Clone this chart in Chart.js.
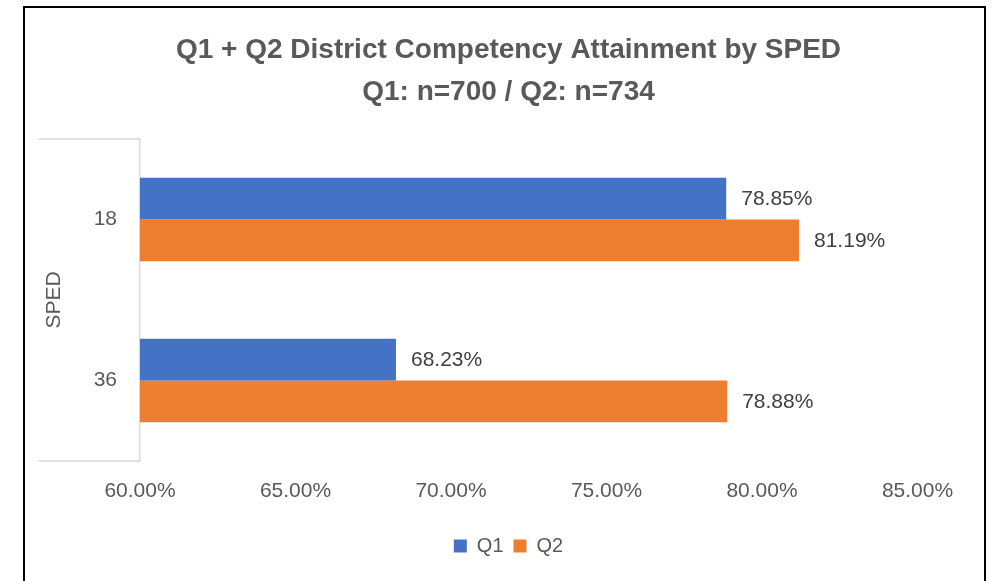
<!DOCTYPE html>
<html>
<head>
<meta charset="utf-8">
<script src="https://cdn.jsdelivr.net/npm/chart.js@4.4.1/dist/chart.umd.min.js"></script>
<style>
  html, body { margin: 0; padding: 0; background: #ffffff; }
  #wrap { position: relative; width: 995px; height: 581px; overflow: hidden; }
  #frame { position: absolute; left: 23px; top: 6px; width: 959px; height: 640px;
           border: 2px solid #000000; pointer-events: none; }
  canvas { position: absolute; left: 0; top: 0; }
</style>
</head>
<body>
<div id="wrap">
  <canvas id="c" width="995" height="581"></canvas>
  <div id="frame"></div>
</div>
<script>
// ---- data ----
const titleLines = ['Q1 + Q2 District Competency Attainment by SPED', 'Q1: n=700 / Q2: n=734'];
const groupLabel = 'SPED';
const categories = ['18', '36'];
const seriesNames = ['Q1', 'Q2'];
const q1Values = [78.85, 68.23];
const q2Values = [81.19, 78.88];
const axisMin = 60;
const axisMax = 85;
const axisStep = 5;

const FONT = "'Liberation Sans', Arial, sans-serif";
const GRID = '#D9D9D9';

const boxLines = {
  id: 'boxLines',
  beforeDatasetsDraw(chart) {
    const ctx = chart.ctx;
    const y = chart.scales.y;
    const a = chart.chartArea;
    ctx.save();
    ctx.strokeStyle = GRID;
    ctx.lineWidth = 1.5;
    ctx.beginPath();
    ctx.moveTo(y.left, a.top); ctx.lineTo(a.left, a.top);
    ctx.moveTo(y.left, a.bottom); ctx.lineTo(a.left, a.bottom);
    ctx.stroke();
    ctx.restore();
  }
};

const valueLabels = {
  id: 'valueLabels',
  afterDatasetsDraw(chart) {
    const ctx = chart.ctx;
    ctx.save();
    ctx.font = '21px ' + FONT;
    ctx.fillStyle = '#404040';
    ctx.textAlign = 'left';
    ctx.textBaseline = 'middle';
    chart.data.datasets.forEach((ds, i) => {
      chart.getDatasetMeta(i).data.forEach((bar, j) => {
        ctx.fillText(ds.data[j].toFixed(2) + '%', bar.x + 15, bar.y + 1);
      });
    });
    ctx.restore();
  }
};

new Chart(document.getElementById('c'), {
  type: 'bar',
  data: {
    labels: categories,
    datasets: [
      { label: seriesNames[0], data: q1Values, backgroundColor: '#4472C4', yAxisID: 'y' },
      { label: seriesNames[1], data: q2Values, backgroundColor: '#ED7D31', yAxisID: 'y' }
    ]
  },
  options: {
    indexAxis: 'y',
    responsive: false,
    animation: false,
    devicePixelRatio: 1,
    layout: { padding: { left: 38, right: 16, top: 0, bottom: 15 } },
    datasets: { bar: { categoryPercentage: 0.52, barPercentage: 1.0, borderWidth: 0 } },
    scales: {
      x: {
        type: 'linear',
        min: axisMin, max: axisMax,
        grid: { display: false, drawTicks: false },
        border: { display: false },
        ticks: {
          stepSize: axisStep,
          padding: 18,
          color: '#595959',
          font: { family: FONT, size: 21 },
          callback: v => v.toFixed(2) + '%'
        },
        afterFit(scale) { scale.height = 65; }
      },
      y: {
        type: 'category',
        position: 'left',
        grid: { display: false, drawTicks: false },
        border: { display: true, color: GRID, width: 1.5 },
        ticks: { padding: 23, color: '#595959', font: { family: FONT, size: 21 } },
        title: {
          display: true, text: groupLabel, color: '#595959',
          font: { family: FONT, size: 21 }, padding: { top: 4, bottom: 0 }
        },
        afterFit(scale) { scale.width = 102; }
      },
      yPad: {
        type: 'category',
        position: 'right',
        display: true,
        grid: { display: false, drawTicks: false },
        border: { display: false },
        ticks: { display: false },
        afterFit(scale) { scale.width = 61.5; }
      }
    },
    plugins: {
      title: {
        display: true,
        text: titleLines,
        color: '#595959',
        font: { family: FONT, size: 28, weight: 'bold', lineHeight: 1.5 },
        padding: { top: 29, bottom: 26 }
      },
      legend: {
        position: 'bottom',
        labels: {
          boxWidth: 13, boxHeight: 13, padding: 10,
          color: '#595959',
          font: { family: FONT, size: 20 }
        }
      },
      tooltip: { enabled: false }
    }
  },
  plugins: [boxLines, valueLabels]
});
</script>
</body>
</html>
